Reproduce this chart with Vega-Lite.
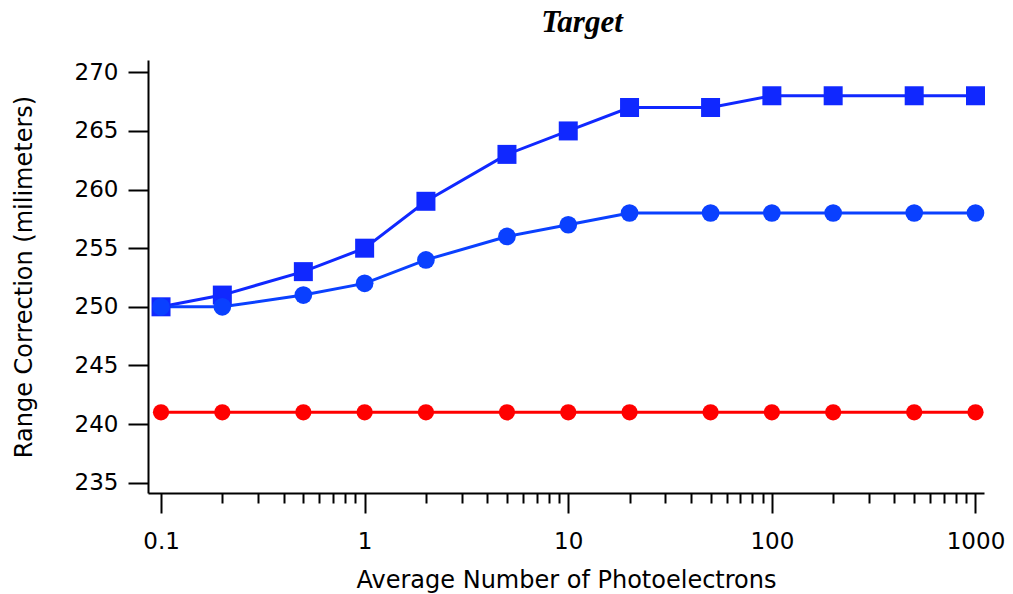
{
  "$schema": "https://vega.github.io/schema/vega-lite/v6.json",
  "width": 836,
  "height": 433,
  "autosize": {"type": "none"},
  "padding": {"left": 148, "top": 60, "right": 29, "bottom": 101},
  "background": "white",
  "title": {
    "text": "Target",
    "font": "Liberation Serif",
    "fontSize": 31,
    "fontWeight": "bold",
    "fontStyle": "italic",
    "color": "black",
    "frame": "group",
    "anchor": "middle",
    "baseline": "alphabetic",
    "offset": 1,
    "dx": 16,
    "dy": 4
  },
  "config": {
    "view": {"stroke": null},
    "axis": {
      "labelFont": "DejaVu Sans",
      "titleFont": "DejaVu Sans",
      "labelColor": "black",
      "titleColor": "black",
      "domainColor": "black",
      "tickColor": "black",
      "domainWidth": 2,
      "tickWidth": 2,
      "grid": false,
      "titleFontWeight": "normal"
    }
  },
  "data": {
    "values": [
      {"x": 0.1, "y": 250, "series": "A"},
      {"x": 0.2, "y": 251, "series": "A"},
      {"x": 0.5, "y": 253, "series": "A"},
      {"x": 1, "y": 255, "series": "A"},
      {"x": 2, "y": 259, "series": "A"},
      {"x": 5, "y": 263, "series": "A"},
      {"x": 10, "y": 265, "series": "A"},
      {"x": 20, "y": 267, "series": "A"},
      {"x": 50, "y": 267, "series": "A"},
      {"x": 100, "y": 268, "series": "A"},
      {"x": 200, "y": 268, "series": "A"},
      {"x": 500, "y": 268, "series": "A"},
      {"x": 1000, "y": 268, "series": "A"},
      {"x": 0.1, "y": 250, "series": "B"},
      {"x": 0.2, "y": 250, "series": "B"},
      {"x": 0.5, "y": 251, "series": "B"},
      {"x": 1, "y": 252, "series": "B"},
      {"x": 2, "y": 254, "series": "B"},
      {"x": 5, "y": 256, "series": "B"},
      {"x": 10, "y": 257, "series": "B"},
      {"x": 20, "y": 258, "series": "B"},
      {"x": 50, "y": 258, "series": "B"},
      {"x": 100, "y": 258, "series": "B"},
      {"x": 200, "y": 258, "series": "B"},
      {"x": 500, "y": 258, "series": "B"},
      {"x": 1000, "y": 258, "series": "B"},
      {"x": 0.1, "y": 241, "series": "C"},
      {"x": 0.2, "y": 241, "series": "C"},
      {"x": 0.5, "y": 241, "series": "C"},
      {"x": 1, "y": 241, "series": "C"},
      {"x": 2, "y": 241, "series": "C"},
      {"x": 5, "y": 241, "series": "C"},
      {"x": 10, "y": 241, "series": "C"},
      {"x": 20, "y": 241, "series": "C"},
      {"x": 50, "y": 241, "series": "C"},
      {"x": 100, "y": 241, "series": "C"},
      {"x": 200, "y": 241, "series": "C"},
      {"x": 500, "y": 241, "series": "C"},
      {"x": 1000, "y": 241, "series": "C"}
    ]
  },
  "layer": [
    {
      "mark": {"type": "line", "strokeWidth": 3, "clip": false},
      "encoding": {
        "x": {
          "field": "x", "type": "quantitative",
          "scale": {"type": "log", "domain": [0.0863, 1101], "nice": false},
          "axis": {
            "orient": "bottom",
            "values": [0.1, 1, 10, 100, 1000],
            "tickSize": 20,
            "labelFontSize": 23,
            "labelPadding": 17,
            "labelFlush": false,
            "labelOverlap": false,
            "labelExpr": "datum.value < 1 ? '0.1' : format(datum.value, 'd')",
            "title": "Average Number of Photoelectrons",
            "titleFontSize": 24,
            "titleBaseline": "alphabetic",
            "titleY": 94
          }
        },
        "y": {
          "field": "y", "type": "quantitative",
          "scale": {"domain": [234.12, 271.05], "nice": false, "zero": false},
          "axis": {
            "values": [235, 240, 245, 250, 255, 260, 265, 270],
            "tickSize": 20,
            "labelFontSize": 23,
            "labelPadding": 10,
            "labelFlush": false,
            "labelOverlap": false,
            "title": "Range Correction  (milimeters)",
            "titleFontSize": 24,
            "titleAngle": -90,
            "titleBaseline": "alphabetic",
            "titleAlign": "center",
            "titleX": -117,
            "titleY": 216.5
          }
        },
        "color": {
          "field": "series", "type": "nominal",
          "scale": {"domain": ["A", "B", "C"], "range": ["#1028FF", "#0A40FF", "#FF0000"]},
          "legend": null
        },
        "detail": {"field": "series"}
      }
    },
    {
      "mark": {"type": "point", "filled": true, "opacity": 1, "clip": false},
      "encoding": {
        "x": {
          "field": "x", "type": "quantitative",
          "scale": {"type": "log", "domain": [0.0863, 1101], "nice": false},
          "axis": {
            "orient": "bottom",
            "values": [0.2, 0.3, 0.4, 0.5, 0.6, 0.7, 0.8, 0.9, 2, 3, 4, 5, 6, 7, 8, 9, 20, 30, 40, 50, 60, 70, 80, 90, 200, 300, 400, 500, 600, 700, 800, 900],
            "tickSize": 10,
            "labels": false,
            "domain": false,
            "title": null
          }
        },
        "y": {"field": "y", "type": "quantitative"},
        "color": {
          "field": "series", "type": "nominal",
          "scale": {"domain": ["A", "B", "C"], "range": ["#1028FF", "#0A40FF", "#FF0000"]},
          "legend": null
        },
        "shape": {
          "field": "series", "type": "nominal",
          "scale": {"domain": ["A", "B", "C"], "range": ["square", "circle", "circle"]},
          "legend": null
        },
        "size": {
          "field": "series", "type": "nominal",
          "scale": {"domain": ["A", "B", "C"], "range": [361, 265, 265]},
          "legend": null
        }
      }
    }
  ],
  "resolve": {"axis": {"x": "independent"}}
}
